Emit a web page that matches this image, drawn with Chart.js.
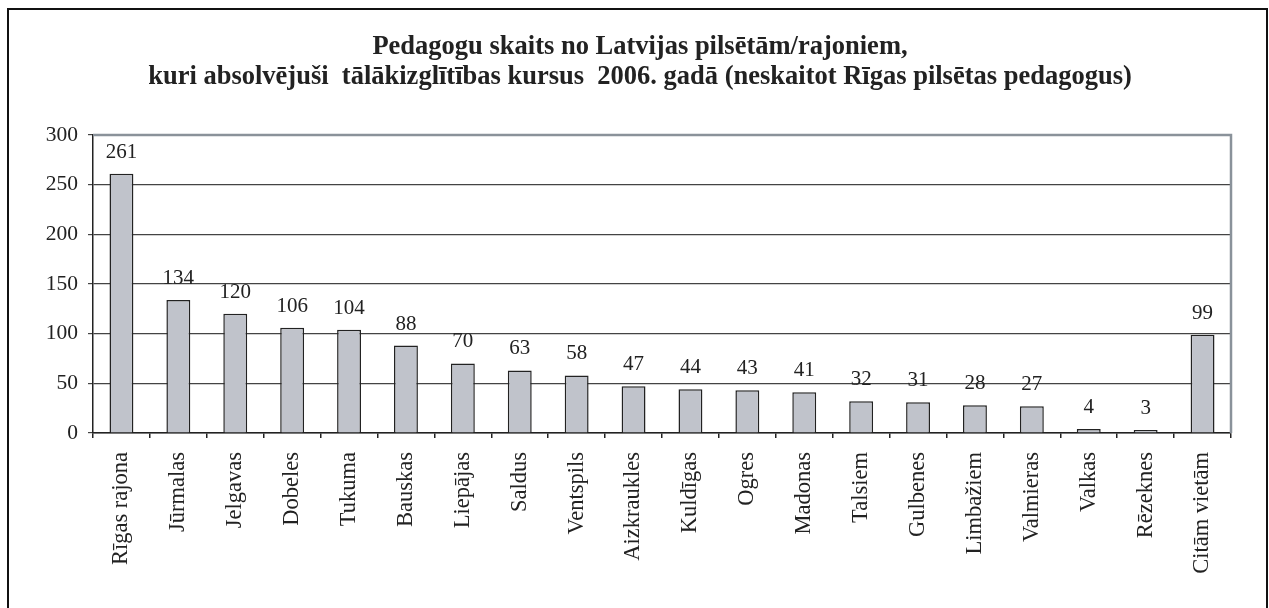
<!DOCTYPE html>
<html>
<head>
<meta charset="utf-8">
<script src="https://cdn.jsdelivr.net/npm/chart.js@4/dist/chart.umd.min.js"></script>
<style>
html,body{margin:0;padding:0;background:#fff;}
#wrap{width:1269px;height:608px;position:relative;}
</style>
</head>
<body>
<div id="wrap"><canvas id="c" width="1269" height="608"></canvas></div>
<script>
const categories = ["Rīgas rajona","Jūrmalas","Jelgavas","Dobeles","Tukuma","Bauskas","Liepājas","Saldus","Ventspils","Aizkraukles","Kuldīgas","Ogres","Madonas","Talsiem","Gulbenes","Limbažiem","Valmieras","Valkas","Rēzeknes","Citām vietām"];
const values = [261,134,120,106,104,88,70,63,58,47,44,43,41,32,31,28,27,4,3,99];
const yTicks = [0,50,100,150,200,250,300];
const titleLines = ["Pedagogu skaits no Latvijas pilsētām/rajoniem,","kuri absolvējuši  tālākizglītības kursus  2006. gadā (neskaitot Rīgas pilsētas pedagogus)"];

const FONT = "'Liberation Serif','Times New Roman',serif";

const titlePlugin = {
  id:'titleText',
  afterDraw(chart){
    const {ctx} = chart;
    ctx.save();
    ctx.font = "bold 26.5px " + FONT;
    ctx.fillStyle = '#222';
    ctx.textAlign = 'center';
    ctx.textBaseline = 'alphabetic';
    ctx.fillText(titleLines[0], 640, 54);
    ctx.fillText(titleLines[1], 640, 84);
    ctx.restore();
  }
};

const frame = {
  id:'frame',
  afterDraw(chart){
    const {ctx, chartArea:a} = chart;
    ctx.save();
    ctx.strokeStyle = '#8a929a';
    ctx.lineWidth = 2.5;
    ctx.beginPath();
    ctx.moveTo(a.left, a.top);
    ctx.lineTo(a.right, a.top);
    ctx.lineTo(a.right, a.bottom);
    ctx.stroke();
    ctx.strokeStyle = '#111';
    ctx.lineWidth = 2;
    ctx.strokeRect(8, 9, 1259, 620);
    ctx.restore();
  }
};

const valueLabels = {
  id:'valueLabels',
  afterDatasetsDraw(chart){
    const {ctx} = chart;
    const meta = chart.getDatasetMeta(0);
    ctx.save();
    ctx.font = "21px " + FONT;
    ctx.fillStyle = '#222';
    ctx.textAlign = 'center';
    ctx.textBaseline = 'alphabetic';
    meta.data.forEach((bar, i) => {
      ctx.fillText(String(values[i]), bar.x, bar.y - 16);
    });
    ctx.restore();
  }
};

new Chart(document.getElementById('c'), {
  type:'bar',
  data:{
    labels: categories,
    datasets:[{
      data: values,
      backgroundColor:'#c0c3cb',
      borderColor:'#222',
      borderWidth:1.5,
      barPercentage:0.42,
      categoryPercentage:1
    }]
  },
  options:{
    responsive:false,
    animation:false,
    devicePixelRatio:1,
    layout:{padding:{left:0,right:38,top:135,bottom:0}},
    plugins:{
      legend:{display:false},
      tooltip:{enabled:false},
      title:{display:false}
    },
    scales:{
      x:{
        offset:true,
        grid:{drawOnChartArea:false,drawTicks:true,tickLength:5,color:'#222',lineWidth:1.5},
        border:{display:true,color:'#222',width:1.5},
        ticks:{
          minRotation:90,maxRotation:90,autoSkip:false,padding:14,
          color:'#222',font:{family:FONT,size:22.5}
        },
        afterFit(s){ s.height = 175; }
      },
      y:{
        min:0,max:300,
        afterBuildTicks(s){ s.ticks = yTicks.map(v=>({value:v})); },
        grid:{color:'#444',lineWidth:1.2,tickLength:5,drawTicks:true},
        border:{display:true,color:'#222',width:1.5},
        ticks:{padding:10,color:'#222',font:{family:FONT,size:21.5}},
        afterFit(s){ s.width = 93; }
      }
    }
  },
  plugins:[valueLabels, frame, titlePlugin]
});
</script>
</body>
</html>
